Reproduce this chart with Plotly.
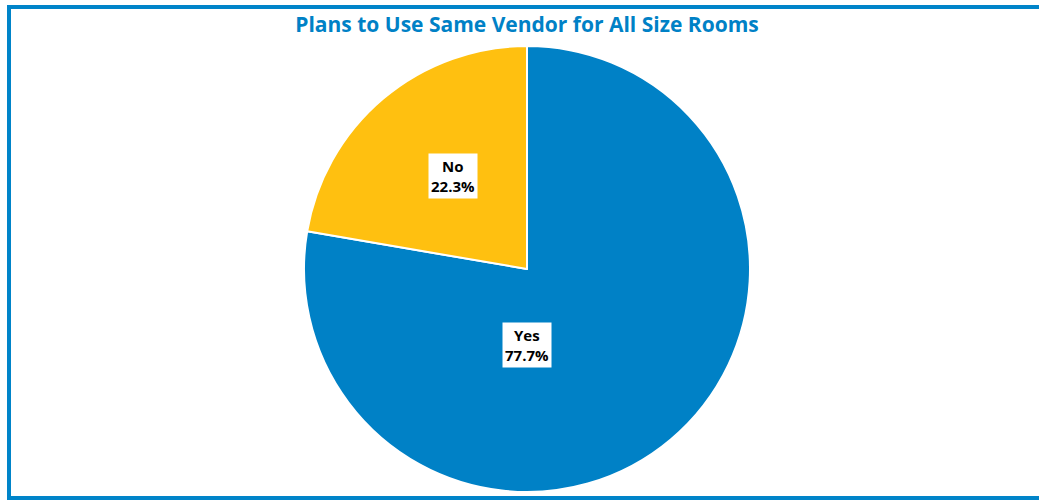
import plotly.graph_objects as go

categories = ["Yes", "No"]
values = [77.7, 22.3]
colors = ["#0081C6", "#FFC010"]
title_text = "Plans to Use Same Vendor for All Size Rooms"

W, H = 1039, 500
L, R, T, B = 304, 289, 46, 8
pw, ph = W - L - R, H - T - B

def px_to_paper(x, y):
    return (x - L) / pw, (H - B - y) / ph

fig = go.Figure(go.Pie(
    labels=categories,
    values=values,
    sort=False,
    direction="clockwise",
    rotation=0,
    marker=dict(colors=colors, line=dict(color="white", width=2)),
    textinfo="none",
    hoverinfo="label+percent",
    showlegend=False,
))

label_px = {"Yes": (527, 345), "No": (453, 176)}
for cat, val in zip(categories, values):
    x, y = px_to_paper(*label_px[cat])
    fig.add_annotation(
        x=x, y=y, xref="paper", yref="paper",
        xanchor="center", yanchor="middle",
        text=f"<b>{cat}<br>{val:.1f}%</b>",
        showarrow=False, bgcolor="white", borderpad=2,
        font=dict(family="Open Sans, Lato, sans-serif", size=15, color="black"),
    )

x0, y1 = px_to_paper(9, 7)
x1, y0 = px_to_paper(1050, 498)
fig.add_shape(type="rect", xref="paper", yref="paper", x0=x0, x1=x1, y0=y0, y1=y1,
              line=dict(color="#0084C9", width=4), fillcolor="rgba(0,0,0,0)")

fig.update_layout(
    width=W, height=H,
    margin=dict(l=L, r=R, t=T, b=B),
    paper_bgcolor="white", plot_bgcolor="white",
    title=dict(text=f"<b>{title_text}</b>", x=527 / W, xanchor="center",
               y=1 - 25 / H, yanchor="middle", yref="container",
               font=dict(family="Open Sans, Lato, sans-serif", size=21, color="#0081C6")),
)

fig.write_html("out.html")
